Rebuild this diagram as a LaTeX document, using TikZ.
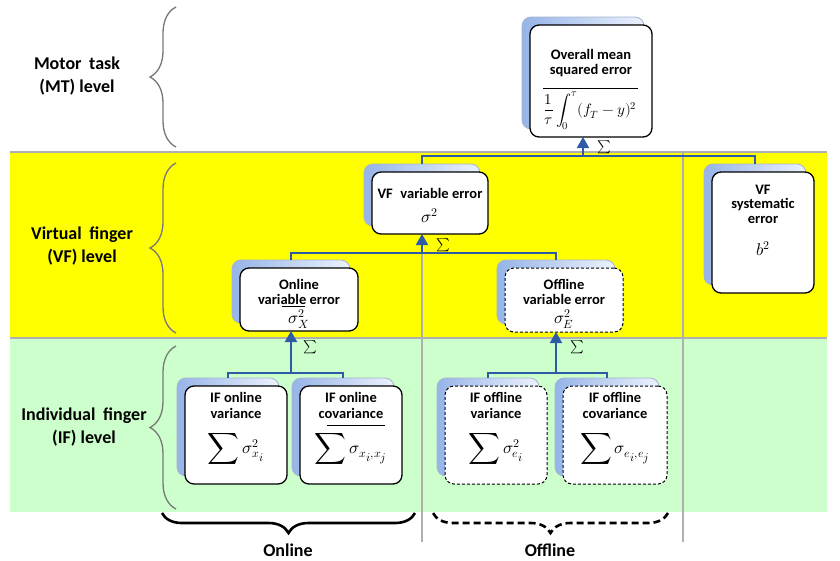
\documentclass[tikz,border=0pt]{standalone}
\usepackage{fontspec}
\usepackage{unicode-math}
\setmainfont{Carlito}
\setmathfont{Latin Modern Math}
\usetikzlibrary{arrows.meta,decorations.pathreplacing}
\definecolor{bandyellow}{RGB}{255,255,0}
\definecolor{bandgreen}{RGB}{204,255,204}
\definecolor{divgray}{RGB}{175,175,175}
\definecolor{bracegray}{RGB}{120,120,120}
\definecolor{connblue}{RGB}{47,90,165}
\definecolor{backblue}{RGB}{150,180,232}
\definecolor{backlight}{RGB}{236,242,253}
\definecolor{backedge}{RGB}{165,180,210}
\tikzset{
  backbox/.style={rounded corners=9pt, draw=backedge, line width=0.8pt, left color=backblue, right color=backlight, inner sep=0pt, outer sep=0pt},
  frontbox/.style={rounded corners=9pt, draw=black, line width=1.3pt, fill=white, inner sep=0pt, outer sep=0pt},
  dashbox/.style={frontbox, dashed, line width=1pt, dash pattern=on 3pt off 2pt},
  conn/.style={draw=connblue, line width=2pt},
  uparrow/.style={conn, -{Triangle[length=11pt,width=12pt]}},
  boxtext/.style={font=\fontsize{14.5}{16}\selectfont\bfseries, inner sep=0pt},
  mathtext/.style={font=\fontsize{17}{20}\selectfont, inner sep=0pt},
  msetext/.style={font=\fontsize{15}{18}\selectfont, inner sep=0pt},
  sumtext/.style={font=\fontsize{13}{15}\selectfont, inner sep=0pt},
  leveltext/.style={font=\fontsize{18}{23}\selectfont\bfseries, align=center, inner sep=0pt},
  lbrace/.style={draw=bracegray, line width=1.3pt, decorate, decoration={brace, amplitude=26pt}},
  bbrace/.style={draw=black, line width=2.6pt, decorate, decoration={brace, amplitude=20pt}},
  divider/.style={draw=divgray, line width=1.2pt},
  fracline/.style={draw=black, line width=0.8pt}
}
\newcommand\boxpair[6]{%
  \pgfmathsetmacro\bxw{#4-#2}\pgfmathsetmacro\bxh{#5-#3}%
  \pgfmathsetmacro\bxcx{(#2+#4)/2}\pgfmathsetmacro\bxcy{(#3+#5)/2}%
  \node[backbox, minimum width=\bxw pt, minimum height=\bxh pt] (#1b) at (\bxcx-8,\bxcy-8) {};
  \node[#6, minimum width=\bxw pt, minimum height=\bxh pt] (#1) at (\bxcx,\bxcy) {};
}
\newcommand\bigsum{\mathop{\vcenter{\hbox{\scalebox{1.3}{$\displaystyle\sum$}}}}}
\begin{document}
\begin{tikzpicture}[x=1pt,y=-1pt]
\useasboundingbox (0,0) rectangle (840,560);
\fill[white] (0,0) rectangle (840,560);
% bands
\fill[bandyellow] (10,152) rectangle (827,338);
\fill[bandgreen] (10,338) rectangle (827,512);
\draw[divider] (10,152) -- (827,152);
\draw[divider] (10,338) -- (827,338);
\draw[divider] (422,253) -- (422,542);
\draw[divider] (683,152) -- (683,542);
% level labels and braces
\node[leveltext] (lMT) at (77,76) {Motor\hspace{0.2em} task\\(MT) level};
\node[leveltext] (lVF) at (82,246) {Virtual\hspace{0.2em} finger\\(VF) level};
\node[leveltext] (lIF) at (84,427) {Individual\hspace{0.2em} finger\\(IF) level};
\draw[lbrace] (176,147) -- (176,7);
\draw[lbrace] (176,333) -- (176,163);
\draw[lbrace] (176,509) -- (176,346);
% boxes
\boxpair{MSE}{530}{25}{652}{137}{frontbox}
\boxpair{VFvar}{372}{172}{488}{234}{frontbox}
\boxpair{VFsys}{712}{172}{814}{293}{frontbox}
\boxpair{Onvar}{240}{268}{358}{331}{frontbox}
\boxpair{Offvar}{505}{268}{623}{332}{dashbox}
\boxpair{IFa}{185}{386}{287}{484}{frontbox}
\boxpair{IFb}{300}{386}{402}{484}{frontbox}
\boxpair{IFc}{445}{386}{547}{484}{dashbox}
\boxpair{IFd}{563}{386}{667}{484}{dashbox}
% box texts
\node[boxtext] (tM1) at (591,54) {Overall mean};
\node[boxtext] (tM2) at (591,71) {squared error};
\draw[fracline] (543,88) -- (638,88);
\node[msetext] (tM3) at (590,111) {$\displaystyle\frac{1}{\tau}\int_0^{\tau}(f_T-y)^2$};
\node[boxtext] (tV1) at (430,193) {VF\hspace{0.3em} variable error};
\node[mathtext] (tV2) at (430,216) {$\sigma^2$};
\node[boxtext] (tS1) at (763,190) {VF};
\node[boxtext] (tS2) at (763,205) {systematic};
\node[boxtext] (tS3) at (763,220) {error};
\node[mathtext] (tS4) at (763,249) {$b^2$};
\node[boxtext] (tO1) at (299,284) {Online};
\node[boxtext] (tO2) at (299,299) {variable error};
\draw[fracline] (282,306) -- (305,306);
\node[mathtext] (tO3) at (299,319) {$\sigma_X^2$};
\node[boxtext] (tF1) at (564,284) {Offline};
\node[boxtext] (tF2) at (564,299) {variable error};
\node[mathtext] (tF3) at (564,319) {$\sigma_E^2$};
\node[boxtext] (ta1) at (236,397) {IF online};
\node[boxtext] (ta2) at (236,413) {variance};
\node[mathtext] (ta3) at (236,449) {$\bigsum\sigma_{x_{\scriptstyle i}}^2$};
\node[boxtext] (tb1) at (351,397) {IF online};
\node[boxtext] (tb2) at (351,413) {covariance};
\draw[fracline] (327,425) -- (385,425);
\node[mathtext] (tb3) at (351,449) {$\bigsum\sigma_{x_{\scriptstyle i},x_{\scriptstyle j}}$};
\node[boxtext] (tc1) at (496,397) {IF offline};
\node[boxtext] (tc2) at (496,413) {variance};
\node[mathtext] (tc3) at (496,449) {$\bigsum\sigma_{e_{\scriptstyle i}}^2$};
\node[boxtext] (td1) at (615,397) {IF offline};
\node[boxtext] (td2) at (615,413) {covariance};
\node[mathtext] (td3) at (615,449) {$\bigsum\sigma_{e_{\scriptstyle i},e_{\scriptstyle j}}$};
% connectors
\draw[conn] (VFvarb.north) -- ++(0,-8) -| (VFsysb.north);
\coordinate (jTop) at (MSEb.south |- 0,155);
\draw[uparrow] (jTop) -- (MSEb.south |- MSE.south);
\node[sumtext] (s1) at (604,147) {$\sum$};
\draw[conn] (Onvarb.north) -- ++(0,-7) -| (Offvarb.north);
\coordinate (jVF) at (VFvarb.south |- 0,253);
\draw[uparrow] (jVF) -- (VFvarb.south |- VFvar.south);
\node[sumtext] (s2) at (443,245) {$\sum$};
\draw[conn] (IFab.north) -- ++(0,-5) -| (IFbb.north);
\coordinate (jOn) at (Onvarb.south |- 0,373);
\draw[uparrow] (jOn) -- (Onvarb.south |- Onvar.south);
\node[sumtext] (s3) at (310,347) {$\sum$};
\draw[conn] (IFcb.north) -- ++(0,-5) -| (IFdb.north);
\coordinate (jOff) at (Offvarb.south |- 0,373);
\draw[uparrow] (jOff) -- (Offvarb.south |- Offvar.south);
\node[sumtext] (s4) at (577,347) {$\sum$};
% bottom braces
\draw[bbrace] (415,513) -- (162,513);
\draw[bbrace, dash pattern=on 7pt off 4pt] (668,513) -- (433,513);
\node[leveltext] (lOn) at (288,550) {Online};
\node[leveltext] (lOff) at (550,550) {Offline};
\end{tikzpicture}
\end{document}
